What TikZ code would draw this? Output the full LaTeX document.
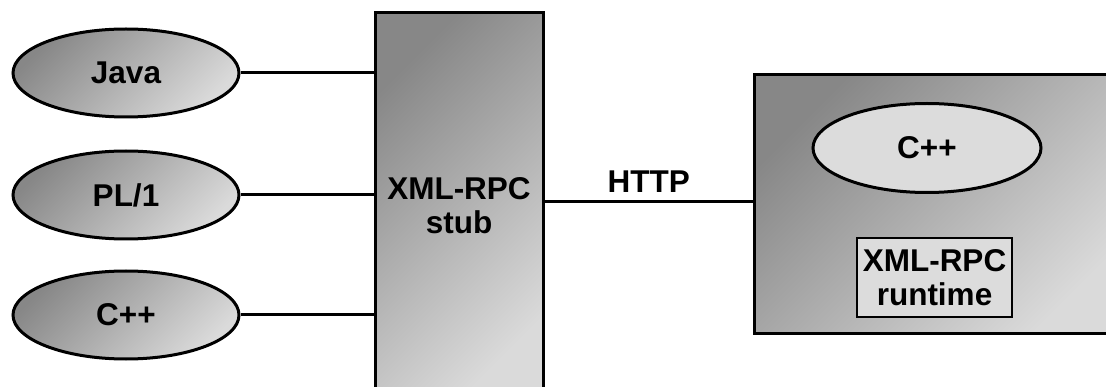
\documentclass[tikz,border=0pt]{standalone}
\usepackage{fontspec}
\setmainfont{Liberation Sans}
\usetikzlibrary{shapes.geometric}
\definecolor{gdark}{HTML}{878787}
\definecolor{glight}{HTML}{DADADA}
\definecolor{ginner}{HTML}{DCDCDC}
\tikzset{
  lbl/.style={font=\fontsize{31.5}{33}\selectfont\bfseries, align=center, inner sep=0pt},
  lang/.style={ellipse, draw=black, line width=3pt, minimum width=226, minimum height=88,
    top color=gdark, bottom color=glight, shading angle=45, lbl},
  bigbox/.style={rectangle, draw=black, line width=3pt, top color=gdark, bottom color=glight, shading angle=45, lbl},
  conn/.style={line width=3pt, draw=black},
}
\begin{document}
\begin{tikzpicture}[x=1pt,y=-1pt]
\useasboundingbox (0,0) rectangle (1106,387);
\clip (0,0) rectangle (1106,387);
\node[lang] (java) at (126,73) {Java};
\node[lang] (pl1) at (126,195) {PL/1};
\node[lang] (cpp) at (126,315) {C++};
\node[bigbox, minimum width=168, minimum height=386] (stub) at (459,206) {XML-RPC\\[1pt]stub};
\node[bigbox, minimum width=372, minimum height=259, anchor=north west] (server) at (753,73) {};
\node[ellipse, draw=black, line width=3pt, fill=ginner, minimum width=228, minimum height=89, lbl] (scpp) at (927,148) {C++};
\node[rectangle, draw=black, line width=2.4pt, fill=ginner, minimum width=155, minimum height=79, lbl] (rt) at (934.5,277.5) {XML-RPC\\[1pt]runtime};
\draw[conn] (java.east) -- (java.east -| stub.west);
\draw[conn] (pl1.east) -- (pl1.east -| stub.west);
\draw[conn] (cpp.east) -- (cpp.east -| stub.west);
\coordinate (h1) at (stub.east |- 0,202);
\draw[conn] (h1) -- (h1 -| server.west) node[midway, above=8pt, lbl] (http) {HTTP};
\end{tikzpicture}
\end{document}
